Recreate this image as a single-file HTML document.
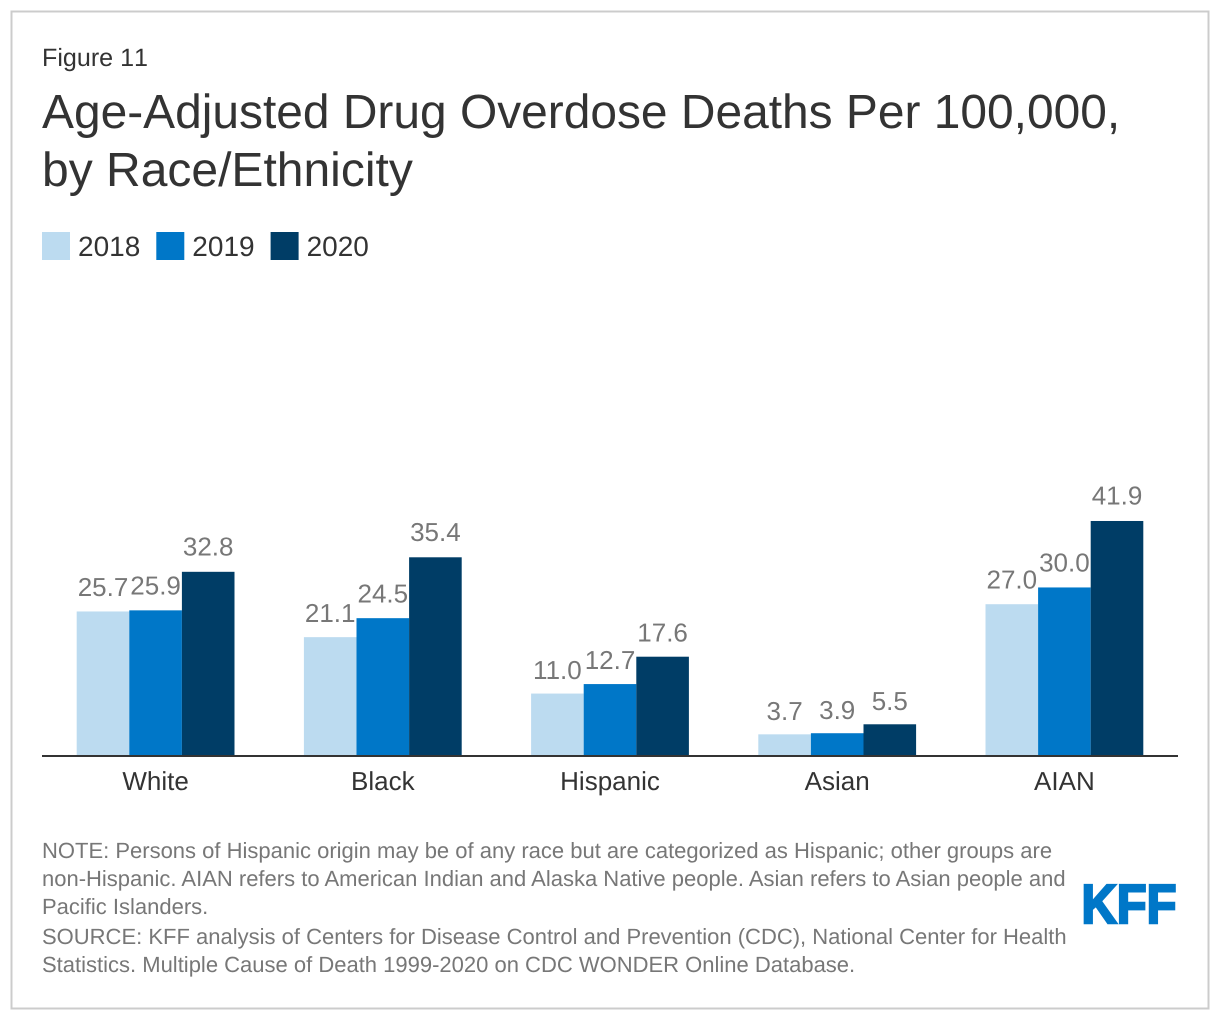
<!DOCTYPE html>
<html lang="en">
<head>
<meta charset="utf-8">
<title>Age-Adjusted Drug Overdose Deaths Per 100,000, by Race/Ethnicity</title>
<style>
html,body{margin:0;padding:0;background:#fff;}
body{width:1220px;height:1020px;overflow:hidden;}
svg{display:block;font-family:"Liberation Sans",Arial,sans-serif;text-rendering:geometricPrecision;}
</style>
</head>
<body>
<svg id="chart" xmlns="http://www.w3.org/2000/svg" width="1220" height="1020" viewBox="0 0 1220 1020">
  <rect x="11.5" y="11.5" width="1197" height="997" fill="#fff" stroke="#cccccc" stroke-width="2"/>
  <text x="42" y="66" font-size="25.1" fill="#333" style="font-kerning:none">Figure 11</text>
  <text x="42" y="128" font-size="47.9" fill="#333">Age-Adjusted Drug Overdose Deaths Per 100,000,</text>
  <text x="42" y="186" font-size="48" fill="#333">by Race/Ethnicity</text>
  <g id="legend"></g>
  <g id="bars"></g>
  <g id="labels"></g>
  <g id="xaxis"></g>
  <g font-size="22" fill="#777">
    <text>
      <tspan x="42" y="858">NOTE: Persons of Hispanic origin may be of any race but are categorized as Hispanic; other groups are</tspan>
      <tspan x="42" y="886">non-Hispanic. AIAN refers to American Indian and Alaska Native people. Asian refers to Asian people and</tspan>
      <tspan x="42" y="914">Pacific Islanders.</tspan>
    </text>
    <text>
      <tspan x="42" y="944">SOURCE: KFF analysis of Centers for Disease Control and Prevention (CDC), National Center for Health</tspan>
      <tspan x="42" y="972">Statistics. Multiple Cause of Death 1999-2020 on CDC WONDER Online Database.</tspan>
    </text>
  </g>
  <text x="1081.5" y="923" font-size="55" font-weight="700" fill="#0077c8" stroke="#0077c8" stroke-width="2.5" textLength="95" lengthAdjust="spacingAndGlyphs">KFF</text>
</svg>
<script>
const categories = ["White", "Black", "Hispanic", "Asian", "AIAN"];
const years = ["2018", "2019", "2020"];
const values2018 = [25.7, 21.1, 11.0, 3.7, 27.0];
const values2019 = [25.9, 24.5, 12.7, 3.9, 30.0];
const values2020 = [32.8, 35.4, 17.6, 5.5, 41.9];

const NS = "http://www.w3.org/2000/svg";
const seriesValues = [values2018, values2019, values2020];
const colors = ["#bcdbf0", "#0077c8", "#003d66"];
const plotLeft = 42, plotRight = 1178, baseline = 755, pxPerUnit = 5.585;
const bandW = (plotRight - plotLeft) / categories.length;
const barW = 52.6;

function xBand(i) { return plotLeft + bandW * (i + 0.5); }
function yVal(v) { return baseline - v * pxPerUnit; }
function yLabel(v) { return baseline - v * 5.65 - 14; }
function mk(tag, attrs, parent, txt) {
  const el = document.createElementNS(NS, tag);
  for (const k in attrs) el.setAttribute(k, attrs[k]);
  if (txt !== undefined) el.textContent = txt;
  parent.appendChild(el);
  return el;
}

const legend = document.getElementById("legend");
years.forEach(function (y, s) {
  const lx = 42 + s * 114.3;
  const sw = mk("rect", { x: lx, y: 232, width: 28, height: 28, fill: colors[s] }, legend);
  
  
  const t = mk("text", { x: lx + 36, y: 256, "font-size": 28, fill: "#333" }, legend, y);
  
  
});

const bars = document.getElementById("bars");
const labels = document.getElementById("labels");
categories.forEach(function (c, i) {
  seriesValues.forEach(function (vals, s) {
    const v = vals[i];
    const x = xBand(i) + (s - 1.5) * barW;
    const r = mk("rect", { x: x, y: yVal(v), width: barW, height: baseline - yVal(v), fill: colors[s] }, bars);
    
    
    const t = mk("text", { x: x + barW / 2, y: yLabel(v), "font-size": 26, fill: "#777", "text-anchor": "middle" }, labels, v.toFixed(1));
    
    
  });
});

const xaxis = document.getElementById("xaxis");
const axisLine = mk("line", { x1: plotLeft, x2: plotRight, y1: baseline + 1, y2: baseline + 1, stroke: "#333", "stroke-width": 2 }, xaxis);


categories.forEach(function (c, i) {
  const t = mk("text", { x: xBand(i), y: 790, "font-size": 26, fill: "#333", "text-anchor": "middle" }, xaxis, c);
  
  
});
</script>
</body>
</html>
